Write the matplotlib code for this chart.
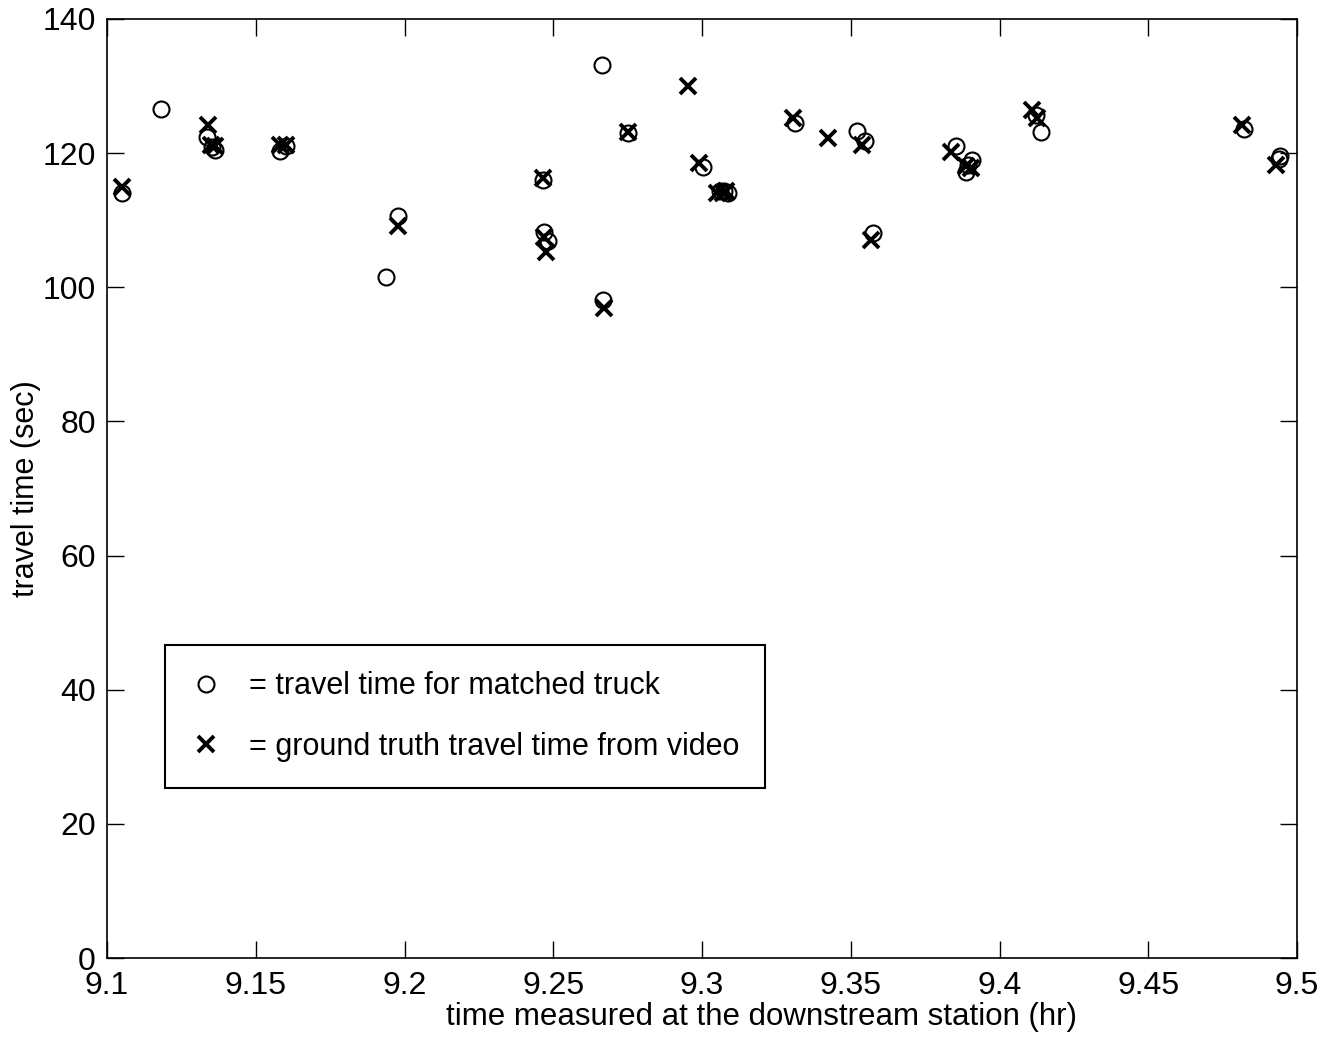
import matplotlib
matplotlib.use("Agg")
import matplotlib.pyplot as plt

plt.rcParams['font.family'] = ['Liberation Sans', 'DejaVu Sans']

# travel time for matched truck (circles)
circ_t = [9.105, 9.118, 9.1336, 9.1352, 9.1363, 9.158, 9.160, 9.1937, 9.1978,
          9.2466, 9.247, 9.2482, 9.2667, 9.2664, 9.2750, 9.3003, 9.3062, 9.3075,
          9.3088, 9.3313, 9.3521, 9.3548, 9.3575, 9.3854, 9.3888, 9.3908, 9.3895,
          9.4121, 9.4140, 9.4822, 9.4940, 9.4944]
circ_y = [114.1, 126.6, 122.4, 120.9, 120.5, 120.3, 121.1, 101.5, 110.6,
          116.0, 108.2, 106.9, 98.1, 133.1, 123.0, 117.9, 114.4, 114.4,
          114.1, 124.5, 123.3, 121.8, 108.1, 121.0, 117.2, 119.0, 118.2,
          125.7, 123.1, 123.6, 119.1, 119.6]

# ground truth travel time from video (crosses)
cross_t = [9.105, 9.1340, 9.1350, 9.1362, 9.158, 9.160, 9.1978, 9.2466, 9.2470,
           9.2475, 9.2670, 9.2750, 9.2953, 9.2990, 9.3050, 9.3070, 9.3080, 9.3307,
           9.3424, 9.3538, 9.3568, 9.3837, 9.3888, 9.3905, 9.4110, 9.4127,
           9.4816, 9.4930]
cross_y = [115.0, 124.2, 121.2, 121.1, 121.2, 121.2, 109.1, 116.3, 107.5,
           105.2, 96.9, 123.2, 130.0, 118.5, 114.1, 114.1, 114.3, 125.2,
           122.3, 121.2, 107.1, 120.2, 118.1, 117.8, 126.4, 125.2,
           124.2, 118.3]

fig = plt.figure(figsize=(13.33, 10.42), dpi=100)
ax = fig.add_axes([0.0803, 0.0806, 0.8927, 0.9012])

ax.plot(circ_t, circ_y, 'o', mfc='none', mec='black', ms=11.5, mew=1.5,
        label='= travel time for matched truck')
ax.plot(cross_t, cross_y, 'x', color='black', ms=11, mew=2.8,
        label='= ground truth travel time from video')

ax.set_xlim(9.1, 9.5)
ax.set_ylim(0, 140)
ax.set_xticks([9.1, 9.15, 9.2, 9.25, 9.3, 9.35, 9.4, 9.45, 9.5])
ax.set_xticklabels(['9.1', '9.15', '9.2', '9.25', '9.3', '9.35', '9.4', '9.45', '9.5'])
ax.set_yticks(range(0, 141, 20))
ax.tick_params(direction='in', top=True, right=True, length=12, width=1,
               labelsize=23)
ax.tick_params(axis='x', pad=9)
ax.tick_params(axis='y', pad=8)
for s in ax.spines.values():
    s.set_linewidth(1.2)

ax.set_xlabel('time measured at the downstream station (hr)', fontsize=22.5, labelpad=1)
ax.xaxis.label.set_x(0.55)
ax.set_ylabel('travel time (sec)', fontsize=22, labelpad=1)

leg = ax.legend(loc='upper left', bbox_to_anchor=(0.0487, 0.333), fontsize=22,
                frameon=True, fancybox=False, edgecolor='black', framealpha=1,
                handlelength=1.0, handletextpad=0.9, borderpad=0.85,
                labelspacing=1.0, borderaxespad=0)
leg.get_frame().set_linewidth(1.5)

fig.savefig('out.png', dpi=100)
